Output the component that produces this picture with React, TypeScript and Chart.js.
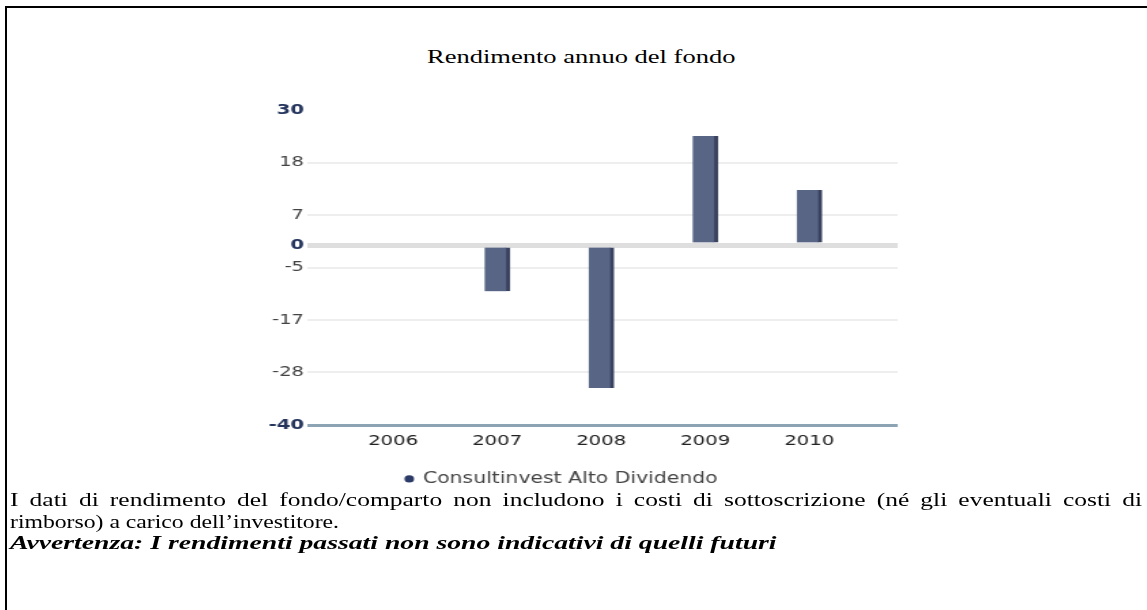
import React, { useEffect, useRef } from 'react';
import { Chart, registerables } from 'chart.js';

Chart.register(...registerables);

const years = [2006, 2007, 2008, 2009, 2010];
const returns: (number | null)[] = [null, -10.3, -31.8, 24.2, 12.2];
const yTickValues = [30, 18.333, 6.667, 0, -5, -16.667, -28.333, -40];
const yTickLabels = ['30', '18', '7', '0', '-5', '-17', '-28', '-40'];
const strongTicks = [30, 0, -40];
const seriesName = 'Consultinvest Alto Dividendo';
const chartTitle = 'Rendimento annuo del fondo';
const noteLine1 = 'I dati di rendimento del fondo/comparto non includono i costi di sottoscrizione (né gli eventuali costi di';
const noteLine2 = 'rimborso) a carico dell’investitore.';
const warningText = 'Avvertenza: I rendimenti passati non sono indicativi di quelli futuri';

const KC = 1.36; // horizontal stretch of the chart image
const K1 = 1.378; // horizontal stretch of the first text line
const KT = 1.281; // horizontal stretch of the second text line
const KB = 1.497; // horizontal stretch of the bold warning
const KH = 1.395; // horizontal stretch of the heading
const SANS = "'DejaVu Sans', sans-serif";
const SERIF = "'Liberation Serif', 'Times New Roman', serif";

export default function App() {
  const ref = useRef<HTMLCanvasElement>(null);

  useEffect(() => {
    const chart = new Chart(ref.current as HTMLCanvasElement, {
      type: 'bar',
      data: {
        datasets: [
          {
            label: seriesName,
            data: years.map((x, i) => ({ x, y: returns[i] })) as any,
            backgroundColor: '#586585',
            borderColor: '#39425f',
            borderWidth: { top: 0, left: 0, right: 3, bottom: 0 } as any,
            borderSkipped: false,
            barThickness: 18.5,
          },
        ],
      },
      options: {
        animation: false,
        responsive: true,
        maintainAspectRatio: false,
        layout: { padding: { left: 0, right: 15, top: 50, bottom: 13.6 } },
        scales: {
          x: {
            type: 'linear',
            min: 2005.17,
            max: 2010.85,
            offset: false,
            afterBuildTicks: (axis: any) => {
              axis.ticks = years.map((v) => ({ value: v }));
            },
            ticks: {
              autoSkip: false,
              maxRotation: 0,
              padding: 8,
              color: '#222',
              font: { family: SANS, size: 14.5 },
              callback: (v: any) => String(v),
            },
            grid: { display: false, drawTicks: false },
            border: { display: false },
          },
          y: {
            type: 'linear',
            min: -40,
            max: 30,
            afterBuildTicks: (axis: any) => {
              axis.ticks = yTickValues.map((v) => ({ value: v }));
            },
            afterFit: (scale: any) => {
              scale.width = 59.6;
            },
            ticks: {
              autoSkip: false,
              padding: 2,
              callback: (_v: any, i: number) => yTickLabels[i],
              color: (c: any) => (strongTicks.includes(c.tick?.value) ? '#24345c' : '#444'),
              font: (c: any) => ({
                family: SANS,
                size: 14.5,
                weight: strongTicks.includes(c.tick?.value) ? 'bold' : 'normal',
              }),
            },
            grid: {
              drawTicks: false,
              color: (c: any) => {
                const v = c.tick?.value;
                if (v === 30) return 'rgba(0,0,0,0)';
                if (v === 0) return '#dedede';
                if (v === -40) return '#8da4b5';
                return '#eeeeee';
              },
              lineWidth: (c: any) => {
                const v = c.tick?.value;
                if (v === 0) return 5;
                if (v === -40) return 3;
                return 2;
              },
            },
            border: { display: false },
          },
        },
        plugins: {
          tooltip: { enabled: false },
          title: { display: false },
          legend: {
            position: 'bottom',
            labels: {
              usePointStyle: true,
              pointStyle: 'circle',
              boxWidth: 5,
              boxHeight: 5,
              padding: 13,
              color: '#444',
              font: { family: SANS, size: 15 },
              generateLabels: (ch: any) =>
                (Chart.defaults.plugins.legend.labels as any)
                  .generateLabels(ch)
                  .map((l: any) => ({ ...l, fillStyle: '#2b3a66', strokeStyle: '#2b3a66', lineWidth: 0 })),
            },
          },
        },
      } as any,
    });
    return () => chart.destroy();
  }, []);

  const textBase = {
    position: 'absolute' as const,
    left: 10,
    fontFamily: SERIF,
    fontSize: 18.5,
    lineHeight: '21.5px',
    color: '#000',
    whiteSpace: 'nowrap' as const,
    transformOrigin: '0 0',
  };

  return (
    <div
      style={{
        position: 'fixed',
        left: 0,
        top: 0,
        width: 1147,
        height: 610,
        overflow: 'hidden',
        background: '#fff',
      }}
    >
      <div
        style={{
          position: 'absolute',
          left: 5,
          top: 6,
          width: 1200,
          height: 700,
          borderTop: '2px solid #000',
          borderLeft: '2px solid #000',
        }}
      />
      <div
        style={{
          position: 'absolute',
          left: 426.6,
          top: 44.5,
          whiteSpace: 'nowrap',
          fontFamily: SERIF,
          fontSize: 19,
          lineHeight: '24px',
          color: '#000',
          transform: `scaleX(${KH})`,
          transformOrigin: '0 0',
        }}
      >
        {chartTitle}
      </div>
      <div
        style={{
          position: 'absolute',
          left: 0,
          top: 0,
          width: 1147 / KC,
          height: 610,
          transform: `scaleX(${KC})`,
          transformOrigin: '0 0',
        }}
      >
        <div style={{ position: 'absolute', left: 166.2, top: 60, width: 509.1, height: 450 }}>
          <canvas ref={ref} />
        </div>
      </div>
      <div
        style={{
          ...textBase,
          top: 490,
          width: 1132 / K1,
          textAlign: 'justify',
          textAlignLast: 'justify',
          transform: `scaleX(${K1})`,
        } as any}
      >
        {noteLine1}
      </div>
      <div style={{ ...textBase, top: 511.5, transform: `scaleX(${KT})` }}>{noteLine2}</div>
      <div
        style={{
          ...textBase,
          top: 533,
          fontWeight: 'bold',
          fontStyle: 'italic',
          transform: `scaleX(${KB})`,
        }}
      >
        {warningText}
      </div>
    </div>
  );
}
